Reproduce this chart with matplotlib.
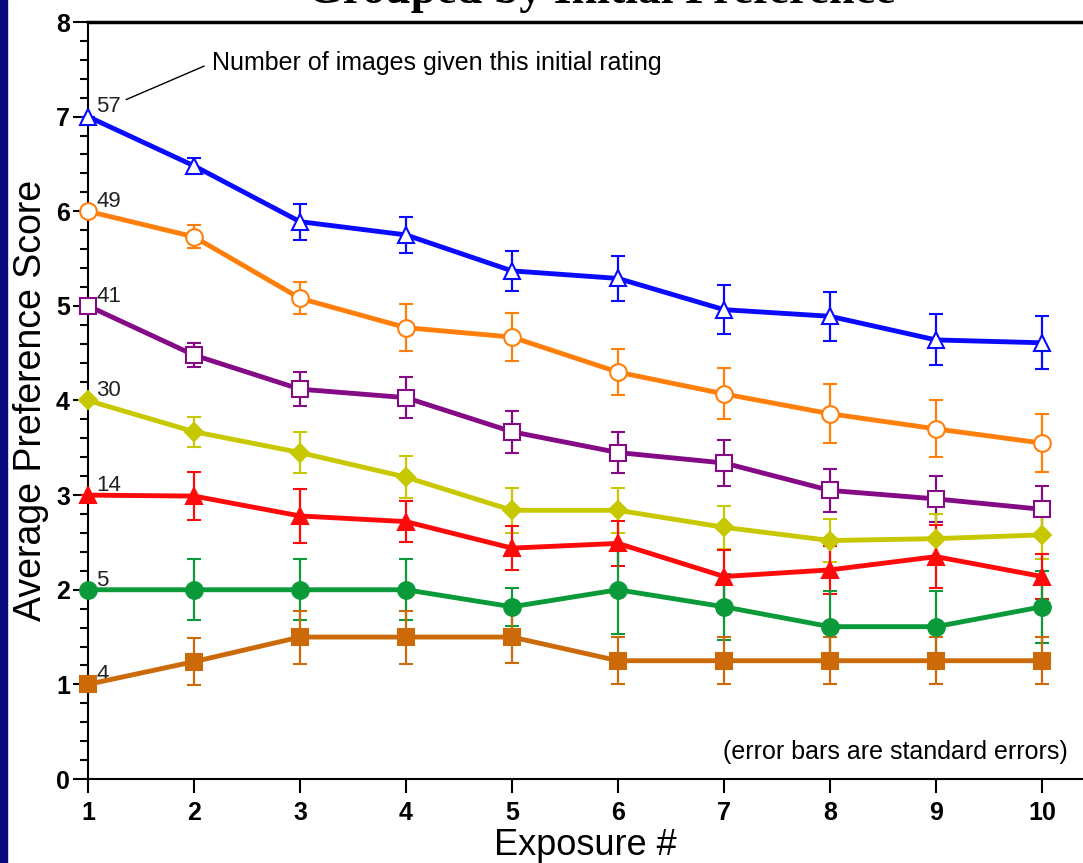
import numpy as np
import matplotlib
matplotlib.use("Agg")
import matplotlib.pyplot as plt
from matplotlib.ticker import MultipleLocator
from matplotlib.patches import Rectangle

exposure = np.arange(1, 11)

# mean preference per exposure, one list per initial-rating group
rating7 = [7.00, 6.48, 5.89, 5.75, 5.37, 5.29, 4.96, 4.89, 4.64, 4.61]
rating6 = [6.00, 5.73, 5.08, 4.77, 4.67, 4.30, 4.07, 3.86, 3.70, 3.55]
rating5 = [5.00, 4.48, 4.12, 4.03, 3.67, 3.45, 3.34, 3.05, 2.96, 2.85]
rating4 = [4.00, 3.67, 3.45, 3.19, 2.84, 2.84, 2.66, 2.52, 2.54, 2.58]
rating3 = [3.00, 2.99, 2.78, 2.72, 2.44, 2.49, 2.14, 2.21, 2.35, 2.14]
rating2 = [2.00, 2.00, 2.00, 2.00, 1.82, 2.00, 1.82, 1.61, 1.61, 1.82]
rating1 = [1.00, 1.24, 1.50, 1.50, 1.50, 1.25, 1.25, 1.25, 1.25, 1.25]

# standard errors
se7 = [0.00, 0.08, 0.19, 0.19, 0.21, 0.24, 0.26, 0.26, 0.27, 0.28]
se6 = [0.00, 0.12, 0.17, 0.25, 0.25, 0.24, 0.27, 0.31, 0.30, 0.31]
se5 = [0.00, 0.13, 0.18, 0.22, 0.22, 0.22, 0.24, 0.23, 0.24, 0.25]
se4 = [0.00, 0.16, 0.22, 0.22, 0.24, 0.24, 0.23, 0.23, 0.26, 0.26]
se3 = [0.00, 0.25, 0.29, 0.22, 0.23, 0.24, 0.28, 0.25, 0.33, 0.24]
se2 = [0.00, 0.32, 0.32, 0.32, 0.20, 0.47, 0.35, 0.38, 0.38, 0.38]
se1 = [0.00, 0.25, 0.28, 0.28, 0.27, 0.25, 0.25, 0.25, 0.25, 0.25]

counts = ["57", "49", "41", "30", "14", "5", "4"]

series = [
    (rating7, se7, "#0a0aff", "^", "white"),
    (rating6, se6, "#ff7f0a", "o", "white"),
    (rating5, se5, "#850a85", "s", "white"),
    (rating4, se4, "#c8c800", "D", None),
    (rating3, se3, "#ff0a0a", "^", None),
    (rating2, se2, "#0a9a3a", "o", None),
    (rating1, se1, "#cc6a0a", "s", None),
]

fig = plt.figure(figsize=(10.83, 8.63), dpi=100)
fig.patch.set_facecolor("white")
ax = fig.add_axes([88 / 1083, 84 / 863, 1 - 88 / 1083, 757 / 863])

for (vals, err, col, mk, face), n in zip(series, counts):
    ms = 9 if mk == "D" else 12
    eb = ax.errorbar(exposure, vals, yerr=err, color=col, lw=3.5, marker=mk,
                     ms=ms, mfc=face if face else col, mec=col, mew=1.5,
                     elinewidth=1.6, capsize=5, capthick=1.6, clip_on=False,
                     zorder=3)
    for a in eb.lines[2]:
        a.set_clip_on(False)
    ax.annotate(n, (exposure[0], vals[0]), xytext=(6, 3),
                textcoords="offset points", fontsize=16,
                family="Liberation Sans", color="#222222")

ax.annotate("Number of images given this initial rating", xy=(1.36, 7.18),
            xytext=(2.17, 7.57), textcoords="data", fontsize=18,
            family="Liberation Sans", va="center", ha="left",
            arrowprops=dict(arrowstyle="-", lw=1, color="black",
                            shrinkA=4, shrinkB=0,
                            relpos=(0, 0.5)))

ax.text(0.985, 0.036, "(error bars are standard errors)",
        transform=ax.transAxes, ha="right", va="center",
        fontsize=18, family="Liberation Sans")

ax.set_xlim(1, 1 + (1083 - 88) / 106)
ax.set_ylim(0, 8)
ax.set_xticks(exposure)
ax.yaxis.set_major_locator(MultipleLocator(1))
ax.yaxis.set_minor_locator(MultipleLocator(0.2))
ax.tick_params(axis="x", length=10, width=1.5, pad=6)
ax.tick_params(axis="y", which="major", length=11, width=1.5, pad=2)
ax.tick_params(axis="y", which="minor", length=6, width=1.5)
for lab in ax.get_xticklabels() + ax.get_yticklabels():
    lab.set_fontsize(18)
    lab.set_fontweight("bold")
    lab.set_family("Liberation Sans")

ax.spines["right"].set_visible(False)
ax.spines["top"].set_linewidth(2.5)
ax.spines["left"].set_linewidth(1.5)
ax.spines["bottom"].set_linewidth(1.5)

ax.set_xlabel("Exposure #", fontsize=26, family="Liberation Sans",
              labelpad=2)
ax.set_ylabel("Average Preference Score", fontsize=27,
              family="Liberation Sans", labelpad=5)

fig.text(0.555, 0.9965, "Grouped by Initial Preference", ha="center",
         va="baseline", fontsize=33, fontweight="bold",
         family="Liberation Serif")

fig.patches.append(Rectangle((0, 0), 7 / 1083, 1, transform=fig.transFigure,
                             color="#0a0a80", zorder=10))

fig.savefig("out.png", dpi=100)
